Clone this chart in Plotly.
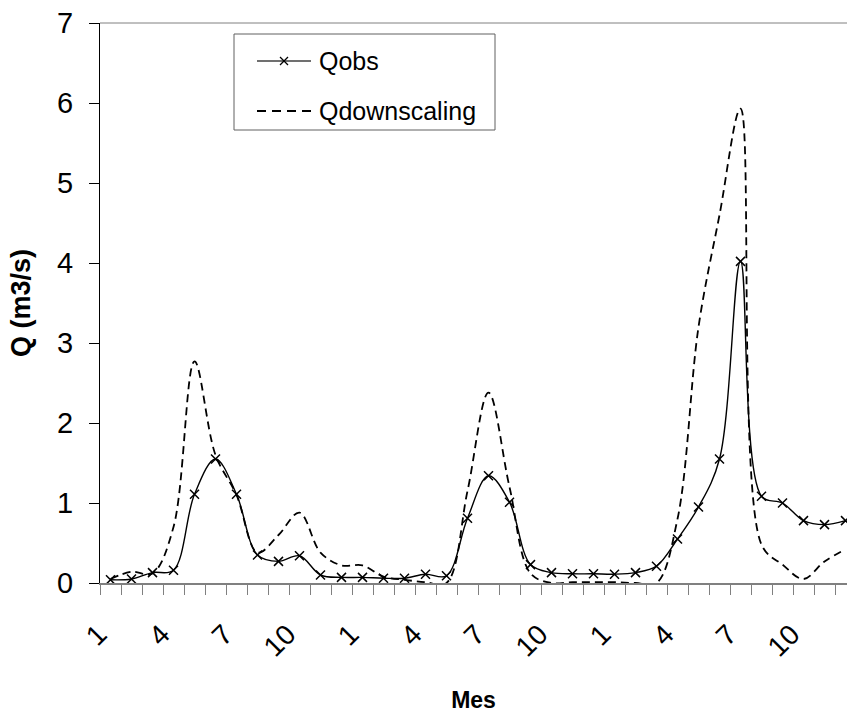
import plotly.graph_objects as go

# Monthly discharge, three hydrological years (36 months)
mes = list(range(1, 13)) * 3
qobs = [0.04, 0.05, 0.13, 0.16, 1.11, 1.55, 1.11, 0.35, 0.27, 0.34, 0.10, 0.07,
        0.07, 0.06, 0.06, 0.11, 0.09, 0.81, 1.34, 1.01, 0.23, 0.13, 0.115, 0.115,
        0.11, 0.13, 0.21, 0.55, 0.95, 1.55, 4.02, 1.085, 1.00, 0.78, 0.73, 0.78]
qdown = [0.05, 0.14, 0.12, 0.70, 2.77, 1.60, 1.10, 0.38, 0.60, 0.88, 0.38, 0.22,
         0.22, 0.08, 0.04, 0.01, 0.00, 1.15, 2.38, 1.20, 0.12, 0.00, 0.01, 0.01,
         0.01, 0.00, 0.00, 0.80, 3.20, 4.60, 5.93, 0.48, 0.23, 0.05, 0.27, 0.42]
series_names = ["Qobs", "Qdownscaling"]

x = list(range(1, len(qobs) + 1))
tickvals = [i for i in x if (mes[i - 1] - 1) % 3 == 0]
ticktext = [str(mes[i - 1]) for i in tickvals]

W, H = 847, 713
L, T, B = 100, 23, 130
PW, PH = W - L, H - T - B

def px_x(p):
    return (p - L) / PW

def px_y(p):
    return (H - B - p) / PH

FONT = "Liberation Sans, Arial, sans-serif"

fig = go.Figure()
fig.add_trace(go.Scatter(
    x=x, y=qobs, name=series_names[0], mode="lines+markers",
    line=dict(color="black", width=1.4, shape="spline", smoothing=1.0),
    marker=dict(symbol="x-thin", size=9, line=dict(color="black", width=1.5)),
    showlegend=False,
))
fig.add_trace(go.Scatter(
    x=x, y=qdown, name=series_names[1], mode="lines",
    line=dict(color="black", width=1.8, dash="8px,5px", shape="spline", smoothing=1.0),
    showlegend=False,
))

shapes = [
    # top border of plot area
    dict(type="line", xref="paper", yref="paper", x0=0, x1=1, y0=1, y1=1,
         line=dict(color="#808080", width=1)),
    # legend box
    dict(type="rect", xref="paper", yref="paper",
         x0=px_x(234), x1=px_x(495), y0=px_y(130), y1=px_y(34),
         line=dict(color="#606060", width=1), fillcolor="white", layer="above"),
    # legend sample: Qobs
    dict(type="line", xref="paper", yref="paper",
         x0=px_x(257), x1=px_x(311), y0=px_y(61), y1=px_y(61),
         line=dict(color="#404040", width=1.4), layer="above"),
    dict(type="line", xref="paper", yref="paper",
         x0=px_x(280), x1=px_x(288), y0=px_y(57), y1=px_y(65),
         line=dict(color="black", width=1.3), layer="above"),
    dict(type="line", xref="paper", yref="paper",
         x0=px_x(280), x1=px_x(288), y0=px_y(65), y1=px_y(57),
         line=dict(color="black", width=1.3), layer="above"),
    # legend sample: Qdownscaling
    dict(type="line", xref="paper", yref="paper",
         x0=px_x(257), x1=px_x(311), y0=px_y(111), y1=px_y(111),
         line=dict(color="black", width=1.8, dash="9px,6px"), layer="above"),
]

annotations = [
    dict(text=series_names[0], xref="paper", yref="paper", x=px_x(317), y=px_y(61),
         xanchor="left", yanchor="middle", showarrow=False,
         font=dict(family=FONT, size=25, color="black")),
    dict(text=series_names[1], xref="paper", yref="paper", x=px_x(317), y=px_y(111),
         xanchor="left", yanchor="middle", showarrow=False,
         font=dict(family=FONT, size=25, color="black")),
]

fig.update_layout(
    width=W, height=H,
    margin=dict(l=L, r=0, t=T, b=B, autoexpand=False),
    paper_bgcolor="white", plot_bgcolor="white",
    font=dict(family=FONT, color="black"),
    shapes=shapes, annotations=annotations,
    showlegend=False,
)
fig.update_xaxes(
    range=[0.5, 0.5 + PW / 21.0],
    tickmode="array", tickvals=tickvals, ticktext=ticktext,
    tickangle=-45, tickfont=dict(size=28, family=FONT),
    ticklabelstandoff=22, ticklabelshift=-12,
    ticks="", showgrid=False, zeroline=False,
    showline=True, linecolor="#808080", linewidth=1.5,
    minor=dict(tickmode="linear", tick0=0.5, dtick=1, ticks="outside",
               ticklen=10, tickcolor="#808080", tickwidth=1, showgrid=False),
    title=dict(text="<b>Mes</b>", font=dict(size=23, family=FONT), standoff=32),
    automargin=False,
)
fig.update_yaxes(
    range=[0, 7], dtick=1, tick0=0,
    tickfont=dict(size=29, family=FONT),
    ticks="outside", ticklen=10, tickcolor="black", tickwidth=1,
    ticklabelstandoff=10,
    showgrid=False, zeroline=False,
    showline=True, linecolor="black", linewidth=1.2,
    title=dict(text="<b>Q (m3/s)</b>", font=dict(size=27, family=FONT), standoff=18),
    automargin=False,
)

fig.write_html("out.html")
